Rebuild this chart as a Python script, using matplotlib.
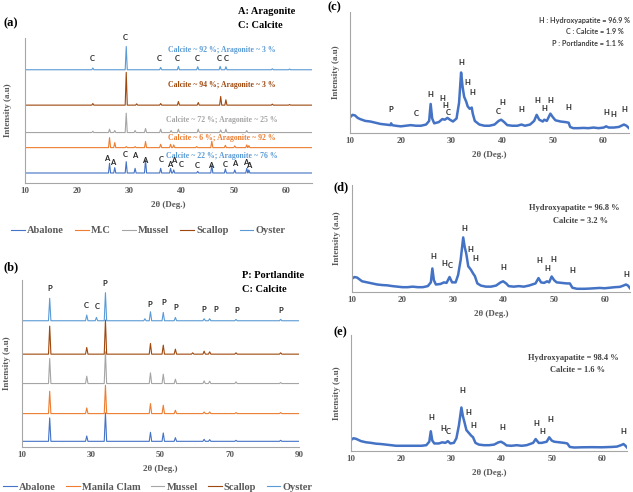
import numpy as np
import matplotlib
matplotlib.use("Agg")
import matplotlib.pyplot as plt

# ---------------- data ----------------
# panel (a): shells, baseline + (2theta, height) of visible peaks
a_names = ["Abalone", "M.C", "Mussel", "Scallop", "Oyster"]
a_base = [6.9, 24.4, 34.8, 53.7, 78.1]
a_peaks = [
    [(26.2, 13.6), (27.2, 10.6), (29.4, 14.7), (31.1, 10.1), (33.1, 15.9), (36.0, 10.1),
     (37.9, 10.1), (38.5, 9.0), (43.1, 8.0), (45.8, 12.4), (48.4, 9.7), (50.2, 9.0),
     (52.5, 10.1), (52.9, 9.0)],
    [(26.2, 31.3), (27.2, 27.9), (29.4, 25.1), (31.1, 25.1), (33.1, 28.6), (36.0, 26.7),
     (37.9, 26.7), (38.5, 26.3), (42.9, 25.1), (45.8, 28.8), (48.4, 26.0), (50.2, 25.6),
     (52.5, 26.3), (52.9, 25.8)],
    [(23.0, 35.7), (26.2, 37.1), (27.2, 36.2), (29.4, 48.2), (31.1, 36.2), (33.1, 37.6),
     (36.0, 37.1), (38.0, 36.2), (39.4, 37.1), (43.2, 37.1), (47.5, 36.6), (48.5, 37.1),
     (52.5, 36.2)],
    [(23.0, 54.8), (29.4, 76.3), (31.4, 54.6), (36.0, 54.8), (39.4, 56.2), (43.2, 55.5),
     (47.5, 59.7), (48.5, 57.4), (57.4, 54.4), (60.7, 54.1)],
    [(23.0, 79.3), (29.4, 94.2), (36.0, 79.7), (39.4, 80.4), (43.1, 80.2), (47.4, 80.4),
     (48.5, 80.2), (57.4, 78.8), (60.7, 78.6)],
]
a_notes = ["Calcite ~ 22 %; Aragonite ~ 76 %", "Calcite ~ 6 %; Aragonite ~ 92 %",
           "Calcite ~ 72 %; Aragonite ~ 25 %", "Calcite ~ 94 %; Aragonite ~ 3 %",
           "Calcite ~ 92 %; Aragonite ~ 3 %"]
a_note_y = [18.9, 31.3, 43.5, 67.7, 92.0]
a_marks = [(22.8, 85.7, "C"), (29.2, 100.5, "C"), (35.8, 85.7, "C"), (39.2, 85.7, "C"),
           (43.1, 85.7, "C"), (47.3, 85.7, "C"), (48.6, 85.7, "C"),
           (25.6, 17.1, "A"), (26.8, 14.3, "A"), (29.2, 19.8, "C"), (31.1, 19.1, "A"),
           (33.0, 15.7, "A"), (36.1, 16.4, "C"), (37.8, 12.7, "A"), (38.5, 15.4, "A"),
           (40.0, 13.1, "C"), (43.0, 12.0, "C"), (45.5, 12.0, "A"), (48.4, 12.7, "C"),
           (50.1, 13.6, "A"), (52.3, 14.1, "A"), (52.9, 12.2, "A")]

# panel (b): calcined shells
b_names = ["Abalone", "Manila Clam", "Mussel", "Scallop", "Oyster"]
b_base = [3.4, 20.0, 38.0, 55.6, 75.6]
b_peaks = [
    [(18.0, 17.4), (28.7, 6.6), (34.1, 20.4), (47.1, 8.8), (50.8, 8.4), (54.3, 5.6),
     (62.6, 4.6), (64.2, 4.4), (71.8, 4.0), (84.7, 4.0)],
    [(18.0, 33.4), (28.7, 23.4), (34.1, 37.0), (47.1, 26.0), (50.8, 25.0), (54.3, 22.0),
     (62.6, 21.0), (64.2, 21.0), (71.8, 20.6), (84.7, 20.6)],
    [(18.0, 53.0), (28.7, 42.4), (34.1, 57.0), (47.1, 44.4), (50.8, 43.6), (54.3, 40.6),
     (62.6, 39.6), (64.2, 39.4), (71.8, 39.0), (84.7, 38.6)],
    [(18.0, 72.4), (28.7, 59.6), (34.1, 76.0), (47.1, 62.0), (50.8, 61.0), (54.3, 58.6),
     (59.3, 56.4), (62.6, 57.4), (64.2, 57.0), (71.8, 56.4), (84.7, 56.4)],
    [(18.0, 89.0), (28.7, 79.0), (31.5, 77.6), (34.1, 92.4), (45.5, 76.8), (47.1, 81.0),
     (50.8, 80.6), (54.3, 77.6), (62.6, 76.8), (64.2, 76.8), (71.8, 76.4), (84.7, 76.4)],
]
b_marks = [(18.0, 95, "P"), (28.6, 85, "C"), (31.6, 84.4, "C"), (33.8, 98, "P"),
           (46.8, 85.6, "P"), (50.8, 86.4, "P"), (54.5, 83.6, "P"), (62.4, 82.4, "P"),
           (66.1, 82.4, "P"), (72.0, 81.8, "P"), (84.8, 81.8, "P")]

# panels (c)-(e): hydroxyapatite patterns
c_x = [10.0, 10.5, 11.0, 11.5, 12.0, 13.0, 14.0, 15.0, 16.0, 17.0, 18.0, 18.1, 18.3, 19.0,
       20.0, 21.0, 22.0, 23.0, 24.0, 25.0, 25.6, 25.9, 26.2, 26.6, 27.5, 28.2, 28.7, 29.2,
       29.7, 30.3, 31.0, 31.5, 31.9, 32.2, 32.5, 32.9, 33.2, 33.6, 34.0, 34.2, 34.6, 35.5,
       36.5, 37.5, 38.5, 39.3, 39.8, 40.4, 41.0, 42.0, 43.0, 43.8, 44.5, 45.5, 46.3, 46.8,
       47.3, 48.0, 48.3, 48.8, 49.5, 50.0, 50.5, 51.5, 52.5, 53.1, 53.4, 54.0, 55.0, 56.0,
       57.0, 58.0, 59.0, 60.0, 60.5, 61.0, 62.0, 63.0, 64.0, 64.5, 65.0]
c_y = [13.0, 15.0, 14.5, 12.5, 11.5, 10.0, 9.5, 8.5, 7.5, 7.0, 6.5, 8.0, 6.5, 6.0,
       5.5, 6.0, 6.5, 6.0, 6.0, 7.0, 10.0, 24.0, 12.0, 8.0, 9.0, 11.5, 11.0, 12.5,
       11.0, 9.5, 12.0, 25.0, 50.0, 38.0, 30.0, 26.0, 22.0, 20.0, 21.0, 16.0, 10.0, 7.0,
       6.0, 6.0, 7.0, 10.0, 11.0, 9.0, 6.5, 6.0, 6.0, 7.0, 6.0, 7.0, 10.0, 15.0,
       11.0, 9.5, 11.0, 10.0, 16.0, 13.0, 10.5, 9.5, 9.0, 8.5, 5.0, 4.0, 4.0, 4.2,
       4.0, 4.5, 4.0, 4.5, 5.5, 4.5, 4.5, 5.0, 7.0, 6.0, 4.0]
c_marks = [(18.0, 19.2, "P"), (23.0, 16.4, "C"), (25.9, 32, "H"), (28.2, 28.2, "H"),
           (28.7, 22.5, "H"), (29.4, 17.3, "C"), (32.0, 58, "H"), (33.2, 42, "H"),
           (34.1, 33.7, "H"), (39.3, 17.8, "C"), (40.0, 25.5, "H"), (43.7, 19.7, "H"),
           (46.9, 26.6, "H"), (48.3, 20, "H"), (49.5, 26.8, "H"), (53.0, 21.4, "H"),
           (60.5, 17, "H"), (61.9, 15, "H"), (64.1, 19.2, "H")]

d_x = [10.0, 10.5, 11.0, 12.0, 13.0, 14.0, 15.0, 16.0, 17.0, 18.0, 19.0, 20.0, 21.0, 22.0,
       23.0, 24.0, 25.0, 25.6, 25.9, 26.2, 26.6, 27.5, 28.2, 28.7, 29.3, 29.8, 30.5, 31.0,
       31.5, 32.0, 32.3, 32.6, 33.0, 33.5, 34.0, 34.3, 34.8, 35.5, 36.5, 37.5, 38.5, 39.4,
       39.9, 40.5, 41.0, 42.0, 43.0, 44.0, 45.0, 46.3, 46.9, 47.4, 48.0, 48.6, 49.0, 49.5,
       50.0, 50.5, 51.5, 52.5, 53.1, 53.6, 54.5, 56.0, 57.0, 58.0, 59.0, 60.0, 61.0, 62.0,
       63.0, 63.7, 64.2, 64.6, 65.0]
d_y = [12.5, 14.0, 13.5, 10.0, 9.0, 8.0, 7.0, 6.5, 6.2, 5.5, 5.0, 4.5, 4.5, 5.0,
       4.5, 4.5, 5.5, 9.0, 22.0, 11.0, 7.0, 7.5, 9.0, 8.5, 14.0, 9.0, 9.0, 16.0,
       30.0, 51.0, 42.0, 36.0, 24.0, 21.0, 17.0, 15.0, 8.0, 6.0, 5.0, 5.0, 6.0, 9.0,
       10.0, 8.0, 5.5, 5.0, 5.5, 5.0, 6.0, 8.0, 13.0, 9.0, 8.5, 10.0, 9.0, 14.5,
       11.0, 9.0, 8.5, 8.0, 8.0, 4.0, 3.0, 3.0, 3.2, 3.5, 3.8, 3.5, 4.0, 4.5,
       4.8, 6.0, 7.0, 6.0, 3.5]
d_marks = [(26.0, 33.2, "H"), (28.2, 27, "H"), (29.4, 24.5, "C"), (32.2, 59, "H"),
           (33.4, 39.4, "H"), (34.3, 31, "H"), (40.0, 23.3, "H"), (47.1, 29.5, "H"),
           (48.7, 21.7, "H"), (49.9, 30.7, "H"), (53.5, 20.2, "H"), (64.3, 16.1, "H")]

e_x = [10.0, 10.5, 11.0, 12.0, 13.0, 14.0, 15.0, 16.0, 17.0, 18.0, 19.0, 20.0, 21.0, 22.0,
       23.0, 24.0, 25.0, 25.6, 25.9, 26.2, 26.6, 27.5, 28.2, 28.8, 29.3, 29.8, 30.5, 31.0,
       31.5, 32.0, 32.3, 32.6, 33.0, 33.5, 34.0, 34.3, 34.8, 35.5, 36.5, 37.5, 38.5, 39.4,
       39.9, 40.5, 41.0, 42.0, 43.0, 44.0, 45.0, 46.3, 46.8, 47.4, 48.0, 48.5, 49.0, 49.5,
       50.0, 50.5, 51.5, 52.5, 53.1, 53.6, 54.5, 56.0, 58.0, 60.0, 62.0, 63.0, 63.8, 64.3,
       64.7, 65.0]
e_y = [9.5, 11.0, 10.5, 8.5, 7.5, 7.0, 6.3, 6.0, 5.5, 5.0, 4.5, 4.5, 4.5, 4.5,
       4.5, 4.5, 5.0, 8.0, 17.0, 9.0, 6.5, 6.5, 7.5, 7.0, 8.5, 6.5, 7.0, 11.0,
       22.0, 37.5, 30.0, 25.0, 18.0, 15.5, 13.0, 12.0, 7.0, 5.5, 5.0, 5.0, 5.5, 7.5,
       8.0, 6.5, 4.8, 4.5, 5.0, 4.5, 5.0, 7.0, 10.3, 7.0, 7.0, 7.5, 8.0, 11.8,
       9.0, 8.0, 7.5, 7.0, 6.5, 3.5, 3.0, 3.2, 3.3, 3.2, 3.5, 3.8, 5.0, 6.0,
       4.5, 3.0]
e_marks = [(26.0, 29, "H"), (28.3, 19.5, "H"), (29.4, 16.7, "C"), (32.2, 52, "H"),
           (33.3, 33, "H"), (34.3, 21.6, "H"), (40.1, 20.4, "H"), (47.0, 23.3, "H"),
           (48.2, 16.4, "H"), (49.7, 27.3, "H"), (64.2, 16.7, "H")]

colors = ["#4472C4", "#ED7D31", "#A5A5A5", "#9E480E", "#5B9BD5"]
note_colors = ["#5B9BD5", "#ED7D31", "#A5A5A5", "#9E480E", "#5B9BD5"]
gray = "#595959"
SERIF = "Liberation Serif"
SANS = "Lato"

W, H = 633, 492
fig = plt.figure(figsize=(W / 100, H / 100), dpi=100)


def box(left, top, right, bottom):
    return [left / W, 1 - bottom / H, (right - left) / W, (bottom - top) / H]


def style(ax, xlim, xticks, ylab_x):
    ax.set_xlim(*xlim)
    ax.set_ylim(0, 100)
    ax.set_xticks(xticks)
    ax.set_yticks([])
    for s in ["top", "right"]:
        ax.spines[s].set_visible(False)
    for s in ["left", "bottom"]:
        ax.spines[s].set_color("#a6a6a6")
        ax.spines[s].set_linewidth(0.8)
    ax.tick_params(axis="x", length=0, pad=3, labelsize=6.5, labelcolor=gray)
    for t in ax.get_xticklabels():
        t.set_family(SERIF)
        t.set_fontweight("bold")
    ax.set_xlabel("2θ (Deg.)", family=SERIF, fontweight="bold", fontsize=6.5,
                  color=gray, labelpad=4)
    ax.set_ylabel("Intensity (a.u)", family=SERIF, fontweight="bold", fontsize=6.5,
                  color=gray)
    ax.yaxis.set_label_coords(ylab_x, 0.5)


def sticks(base, peaks, lo, hi, hw):
    xs, ys = [lo], [base]
    for p, h in peaks:
        xs += [p - hw, p, p + hw]
        ys += [base, h, base]
    xs.append(hi)
    ys.append(base)
    return xs, ys


def marks(ax, items, size=5.5):
    for x, y, s in items:
        ax.text(x, y, s, ha="center", va="center", family=SANS, fontweight="bold",
                fontsize=size, color="#262626", clip_on=False)


# ---- (a)
ax = fig.add_axes(box(25, 38, 312, 183))
for i in range(5):
    xs, ys = sticks(a_base[i], a_peaks[i], 10, 65, 0.2)
    ax.plot(xs, ys, color=colors[i], lw=0.8, label=a_names[i])
    ax.text(47.8, a_note_y[i], a_notes[i], ha="center", va="center", family=SERIF,
            fontweight="bold", fontsize=5.6, color=note_colors[i])
marks(ax, a_marks)
style(ax, (10, 65), [10, 20, 30, 40, 50, 60], -0.045)
ax.legend(loc="center", bbox_to_anchor=(0.43, -0.33), ncol=5, frameon=False,
          handlelength=1.3, handletextpad=0.2, columnspacing=1.1,
          prop={"family": SERIF, "weight": "bold", "size": 7.5}, labelcolor=gray)
fig.text(238 / W, 1 - 12 / H, "A: Aragonite", family=SERIF, fontweight="bold",
         fontsize=7.5, va="center")
fig.text(238 / W, 1 - 25 / H, "C: Calcite", family=SERIF, fontweight="bold",
         fontsize=7.5, va="center")
fig.text(3 / W, 1 - 23 / H, "(a)", family=SERIF, fontweight="bold", fontsize=9, va="center")

# ---- (b)
ax = fig.add_axes(box(22, 280, 299, 447))
for i in range(5):
    xs, ys = sticks(b_base[i], b_peaks[i], 10, 90, 0.35)
    ax.plot(xs, ys, color=colors[i], lw=0.8, label=b_names[i])
marks(ax, b_marks)
style(ax, (10, 90), [10, 30, 50, 70, 90], -0.038)
ax.legend(loc="center", bbox_to_anchor=(0.49, -0.24), ncol=5, frameon=False,
          handlelength=1.3, handletextpad=0.2, columnspacing=1.0,
          prop={"family": SERIF, "weight": "bold", "size": 7.5}, labelcolor=gray)
fig.text(242 / W, 1 - 276 / H, "P: Portlandite", family=SERIF, fontweight="bold",
         fontsize=7.5, va="center")
fig.text(242 / W, 1 - 289 / H, "C: Calcite", family=SERIF, fontweight="bold",
         fontsize=7.5, va="center")
fig.text(3 / W, 1 - 267 / H, "(b)", family=SERIF, fontweight="bold", fontsize=9, va="center")

# ---- (c)
ax = fig.add_axes(box(350, 12, 629, 133))
ax.plot(c_x, c_y, color="#4472C4", lw=1.8)
marks(ax, c_marks)
style(ax, (10, 65), [10, 20, 30, 40, 50, 60], -0.035)
for txt, xr, yy in [("H : Hydroxyapatite = 96.9 %", 630, 20),
                    ("C : Calcite = 1.9 %", 624, 32),
                    ("P : Portlandite = 1.1 %", 624, 43)]:
    fig.text(xr / W, 1 - yy / H, txt, ha="right", va="center", family=SANS,
             fontweight="bold", fontsize=5.2, color="#404040")
fig.text(327 / W, 1 - 7 / H, "(c)", family=SERIF, fontweight="bold", fontsize=9, va="center")

# ---- (d)
ax = fig.add_axes(box(352, 185, 630, 292))
ax.plot(d_x, d_y, color="#4472C4", lw=1.8)
marks(ax, d_marks)
style(ax, (10, 65), [10, 20, 30, 40, 50, 60], -0.04)
ax.text(53.9, 78.3, "Hydroxyapatite = 96.8 %", ha="center", va="center", family=SERIF,
        fontweight="bold", fontsize=6, color="#404040")
ax.text(55.3, 66.8, "Calcite = 3.2 %", ha="center", va="center", family=SERIF,
        fontweight="bold", fontsize=6, color="#404040")
fig.text(333 / W, 1 - 187 / H, "(d)", family=SERIF, fontweight="bold", fontsize=9, va="center")

# ---- (e)
ax = fig.add_axes(box(351, 335, 627, 451))
ax.plot(e_x, e_y, color="#4472C4", lw=1.8)
marks(ax, e_marks)
style(ax, (10, 65), [10, 20, 30, 40, 50, 60], -0.036)
ax.text(54.3, 79.9, "Hydroxyapatite = 98.4 %", ha="center", va="center", family=SERIF,
        fontweight="bold", fontsize=6, color="#404040")
ax.text(55.1, 69.8, "Calcite = 1.6 %", ha="center", va="center", family=SERIF,
        fontweight="bold", fontsize=6, color="#404040")
fig.text(333 / W, 1 - 332 / H, "(e)", family=SERIF, fontweight="bold", fontsize=9, va="center")

fig.savefig("out.png", dpi=100)
